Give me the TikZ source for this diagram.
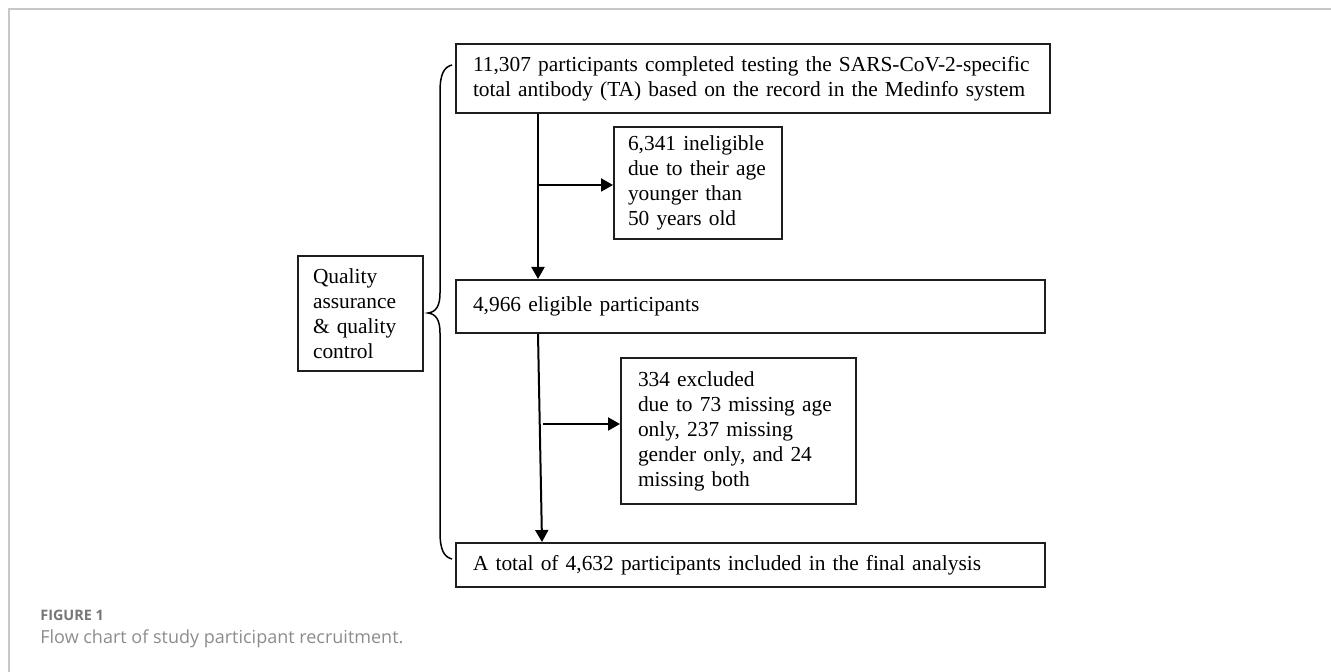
\documentclass[tikz,border=0pt]{standalone}
\usepackage{fontspec}
\setmainfont{Liberation Serif}
\newfontfamily\capfont{Open Sans}
\usetikzlibrary{arrows.meta}
\definecolor{framegray}{HTML}{C8C8C8}
\definecolor{capgray}{HTML}{767676}
\definecolor{capgraylight}{HTML}{8C8C8C}
\definecolor{ink}{HTML}{1E1E1E}
\tikzset{
  flowbox/.style={draw=ink, line width=1pt, anchor=north west, inner ysep=0pt,
    inner xsep=8.5pt, align=left, font=\fontsize{10.7pt}{12.5pt}\selectfont},
  arr/.style={draw=black, line width=1pt, -{Triangle[width=6.5pt,length=6pt]}},
  brace/.style={draw=black, line width=0.75pt},
}
\begin{document}
\begin{tikzpicture}[x=0.5pt,y=-0.5pt]
\useasboundingbox (0,0) rectangle (1331,672);
% outer frame
\draw[framegray, line width=1pt] (9,672) -- (9,9) -- (1331,9);

% flow boxes
\node[flowbox, text width=280pt, minimum height=34.5pt] (top) at (455,43)
  {11,307 participants completed testing the SARS-CoV-2-specific\\
   total antibody (TA) based on the record in the Medinfo system};
\node[flowbox, inner xsep=7pt, text width=70pt, minimum height=56pt] (inel) at (613,126)
  {6,341 ineligible\\ due to their age\\ younger than\\ 50 years old};
\node[flowbox, text width=277.5pt, minimum height=26.5pt] (elig) at (455,279)
  {4,966 eligible participants};
\node[flowbox, text width=100.5pt, minimum height=73pt] (excl) at (620,357)
  {334 excluded\\ due to 73 missing age\\ only, 237 missing\\ gender only, and 24\\ missing both};
\node[flowbox, text width=277.5pt, minimum height=22pt] (final) at (455,542)
  {A total of 4,632 participants included in the final analysis};
\node[flowbox, inner xsep=7.5pt, text width=47.5pt, minimum height=57.5pt] (qa) at (297,255)
  {Quality\\ assurance\\ \& quality\\ control};

% connectors
\coordinate (c1) at (538,0);
\coordinate (c2) at (542,0);
\coordinate (j1) at (538,185);
\coordinate (j2) at (543,424);
\draw[arr] (c1 |- top.south) -- (c1 |- elig.north);
\draw[arr] (j1) -- (j1 -| inel.west);
\draw[arr] (c1 |- elig.south) -- (c2 |- final.north);
\draw[arr] (j2) -- (j2 -| excl.west);

% curly brace spanning the flow
\coordinate (btop) at (452,65);
\coordinate (btip) at (428,313);
\coordinate (bbot) at (452,559);
\draw[brace] (btop) .. controls (444,67) and (440,74) .. (440,92)
  -- (440,293) .. controls (440,306) and (436,312) .. (btip)
  .. controls (436,314) and (440,320) .. (440,333)
  -- (440,532) .. controls (440,550) and (444,557) .. (bbot);

% caption
\node[anchor=base west, inner sep=0pt, text=capgray, font=\capfont\bfseries\fontsize{7.2pt}{8pt}\selectfont] (fig) at (40,620) {FIGURE 1};
\node[anchor=base west, inner sep=0pt, text=capgraylight, font=\capfont\fontsize{9pt}{11pt}\selectfont] (cap) at (40,643) {Flow chart of study participant recruitment.};
\end{tikzpicture}
\end{document}
